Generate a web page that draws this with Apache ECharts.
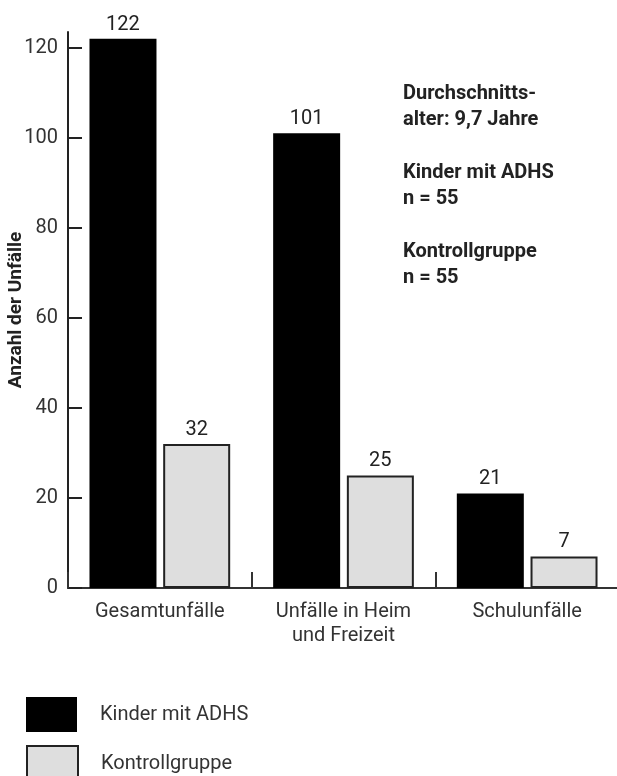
<!DOCTYPE html>
<html>
<head>
<meta charset="utf-8">
<script src="https://cdn.jsdelivr.net/npm/echarts@6/dist/echarts.min.js"></script>
<style>
  html, body { margin: 0; padding: 0; background: #fff; }
  #chart { width: 617px; height: 776px; }
</style>
</head>
<body>
<div id="chart"></div>
<script>
var categories = ['Gesamtunfälle', 'Unfälle in Heim\nund Freizeit', 'Schulunfälle'];
var adhsValues = [122, 101, 21];
var kontrollValues = [32, 25, 7];
var seriesNames = ['Kinder mit ADHS', 'Kontrollgruppe'];
var yTicks = [0, 20, 40, 60, 80, 100, 120];
var noteText = 'Durchschnitts-\nalter: 9,7 Jahre\n\nKinder mit ADHS\nn = 55\n\nKontrollgruppe\nn = 55';

var font = 'Roboto';
var chart = echarts.init(document.getElementById('chart'));

// one legend per item, the box is too low for ECharts to stack them
function legendItem(name, top) {
  return {
    orient: 'vertical',
    left: 26,
    top: top,
    padding: 0,
    itemWidth: 51,
    itemHeight: 35,
    icon: 'rect',
    textStyle: { fontFamily: font, fontSize: 20, color: '#333', padding: [0, 0, 0, 18] },
    data: [name]
  };
}

var option = {
  animation: false,
  textStyle: { fontFamily: font },
  // right -2 pushes the last band tick off the canvas
  grid: { left: 68, right: -2, top: 32, bottom: 188, outerBoundsMode: 'none' },
  legend: [legendItem(seriesNames[0], 697), legendItem(seriesNames[1], 745)],
  graphic: [{
    type: 'text',
    left: 403,
    top: 81,
    style: {
      text: noteText,
      font: 'bold 20px Roboto',
      fill: '#222',
      lineHeight: 26.3
    }
  }],
  xAxis: {
    type: 'category',
    data: categories,
    axisLine: { lineStyle: { color: '#333', width: 2 } },
    axisTick: { show: true, inside: true, length: 16, interval: 0, lineStyle: { color: '#333', width: 2 } },
    axisLabel: { fontSize: 20, color: '#333', margin: 12, lineHeight: 24, fontFamily: font }
  },
  yAxis: {
    type: 'value',
    min: 0,
    max: 123.5,
    interval: 20,
    name: 'Anzahl der Unfälle',
    nameLocation: 'middle',
    nameGap: 42,
    nameMoveOverlap: false,
    nameTextStyle: { fontSize: 19, fontWeight: 'bold', color: '#222', fontFamily: font },
    splitLine: { show: false },
    axisLine: { show: true, lineStyle: { color: '#222', width: 2 } },
    axisTick: { show: true, inside: true, length: 14, customValues: yTicks, lineStyle: { color: '#222', width: 2 } },
    axisLabel: { fontSize: 20, color: '#333', margin: 10, fontFamily: font, customValues: yTicks }
  },
  series: [{
    name: seriesNames[0],
    type: 'bar',
    data: adhsValues,
    barWidth: 67,
    barGap: '10%',
    itemStyle: { color: '#000' },
    label: { show: true, position: 'top', distance: 4, fontSize: 20, color: '#222', fontFamily: font }
  }, {
    name: seriesNames[1],
    type: 'bar',
    data: kontrollValues,
    barWidth: 67,
    itemStyle: { color: '#dedede', borderColor: '#222', borderWidth: 2 },
    label: { show: true, position: 'top', distance: 4, fontSize: 20, color: '#222', fontFamily: font }
  }]
};
chart.setOption(option);
</script>
</body>
</html>
